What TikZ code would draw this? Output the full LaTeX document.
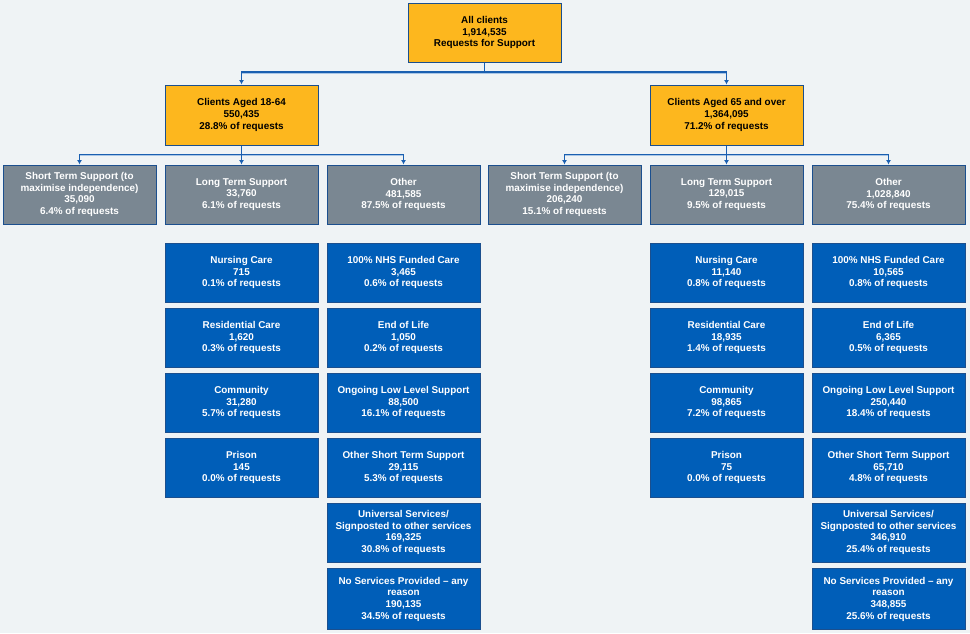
\documentclass[tikz,border=0pt]{standalone}
\usepackage{fontspec}
\setmainfont{Liberation Sans}
\usetikzlibrary{arrows.meta}
\definecolor{bgc}{HTML}{EFF3F5}
\definecolor{orangec}{HTML}{FDB71E}
\definecolor{grayc}{HTML}{7A8792}
\definecolor{bluec}{HTML}{005EB8}
\definecolor{edgec}{HTML}{1B4F8E}
\definecolor{linec}{HTML}{1A5FB0}
\definecolor{hlinec}{HTML}{3F7DC4}
\definecolor{shadec}{HTML}{A9C6E6}
\tikzset{
  box/.style={draw=edgec, line width=1pt, minimum width=153pt, minimum height=59pt,
    align=center, inner sep=2pt, font=\fontsize{9.9}{11.7}\selectfont\bfseries},
  orangebox/.style={box, fill=orangec, text=black},
  graybox/.style={box, fill=grayc, text=white},
  bluebox/.style={box, fill=bluec, text=white},
  conn/.style={draw=linec, line width=1.2pt, -{Latex[length=4.5pt,width=5pt]}},
  shadeline/.style={draw=shadec, line width=1.2pt}
}
\begin{document}
\begin{tikzpicture}[x=1pt,y=-1pt]
\fill[bgc] (0,0) rectangle (970,633);
\useasboundingbox (0,0) rectangle (970,633);

% level 1
\node[orangebox] (top) at (484.5,32.5) {All clients\\1,914,535\\Requests for Support};
% level 2
\node[orangebox, minimum height=60pt] (ya) at (241.5,115) {Clients Aged 18-64\\550,435\\28.8\% of requests};
\node[orangebox, minimum height=60pt] (oa) at (726.5,115) {Clients Aged 65 and over\\1,364,095\\71.2\% of requests};
% level 3
\node[graybox] (yst) at (79.5,194.5) {Short Term Support (to\\maximise independence)\\35,090\\6.4\% of requests};
\node[graybox] (ylt) at (241.5,194.5) {Long Term Support\\33,760\\6.1\% of requests};
\node[graybox] (yot) at (403.5,194.5) {Other\\481,585\\87.5\% of requests};
\node[graybox] (ost) at (564.5,194.5) {Short Term Support (to\\maximise independence)\\206,240\\15.1\% of requests};
\node[graybox] (olt) at (726.5,194.5) {Long Term Support\\129,015\\9.5\% of requests};
\node[graybox] (oot) at (888.5,194.5) {Other\\1,028,840\\75.4\% of requests};

% left long term
\node[bluebox] (yl1) at (241.5,272.5) {Nursing Care\\715\\0.1\% of requests};
\node[bluebox] (yl2) at (241.5,337.5) {Residential Care\\1,620\\0.3\% of requests};
\node[bluebox] (yl3) at (241.5,402.5) {Community\\31,280\\5.7\% of requests};
\node[bluebox] (yl4) at (241.5,467.5) {Prison\\145\\0.0\% of requests};
% left other
\node[bluebox] (yo1) at (403.5,272.5) {100\% NHS Funded Care\\3,465\\0.6\% of requests};
\node[bluebox] (yo2) at (403.5,337.5) {End of Life\\1,050\\0.2\% of requests};
\node[bluebox] (yo3) at (403.5,402.5) {Ongoing Low Level Support\\88,500\\16.1\% of requests};
\node[bluebox] (yo4) at (403.5,467.5) {Other Short Term Support\\29,115\\5.3\% of requests};
\node[bluebox] (yo5) at (403.5,532.5) {Universal Services/\\Signposted to other services\\169,325\\30.8\% of requests};
\node[bluebox, minimum height=61pt] (yo6) at (403.5,599) {No Services Provided -- any\\reason\\190,135\\34.5\% of requests};
% right long term
\node[bluebox] (ol1) at (726.5,272.5) {Nursing Care\\11,140\\0.8\% of requests};
\node[bluebox] (ol2) at (726.5,337.5) {Residential Care\\18,935\\1.4\% of requests};
\node[bluebox] (ol3) at (726.5,402.5) {Community\\98,865\\7.2\% of requests};
\node[bluebox] (ol4) at (726.5,467.5) {Prison\\75\\0.0\% of requests};
% right other
\node[bluebox] (oo1) at (888.5,272.5) {100\% NHS Funded Care\\10,565\\0.8\% of requests};
\node[bluebox] (oo2) at (888.5,337.5) {End of Life\\6,365\\0.5\% of requests};
\node[bluebox] (oo3) at (888.5,402.5) {Ongoing Low Level Support\\250,440\\18.4\% of requests};
\node[bluebox] (oo4) at (888.5,467.5) {Other Short Term Support\\65,710\\4.8\% of requests};
\node[bluebox] (oo5) at (888.5,532.5) {Universal Services/\\Signposted to other services\\346,910\\25.4\% of requests};
\node[bluebox, minimum height=61pt] (oo6) at (888.5,599) {No Services Provided -- any\\reason\\348,855\\25.6\% of requests};

% connector junctions
\coordinate (j0) at ([yshift=-9.5pt]top.south);
\coordinate (ja) at ([yshift=-9pt]ya.south);
\coordinate (jb) at ([yshift=-9pt]oa.south);

% shade lines under horizontals
\draw[shadeline] ([yshift=-1.3pt]j0 -| ya.north) -- ([yshift=-1.3pt]j0 -| oa.north);
\draw[shadeline] ([yshift=-1.3pt]ja -| yst.north) -- ([yshift=-1.3pt]ja -| yot.north);
\draw[shadeline] ([yshift=-1.3pt]jb -| ost.north) -- ([yshift=-1.3pt]jb -| oot.north);

% connectors
\draw[conn] (top.south) -- (j0) -| (ya.north);
\draw[conn] (j0) -| (oa.north);
\draw[conn] (ya.south) -- (ja) -| (yst.north);
\draw[conn] (ja) -- (ylt.north);
\draw[conn] (ja) -| (yot.north);
\draw[conn] (oa.south) -- (jb) -| (ost.north);
\draw[conn] (jb) -- (olt.north);
\draw[conn] (jb) -| (oot.north);
\end{tikzpicture}
\end{document}
